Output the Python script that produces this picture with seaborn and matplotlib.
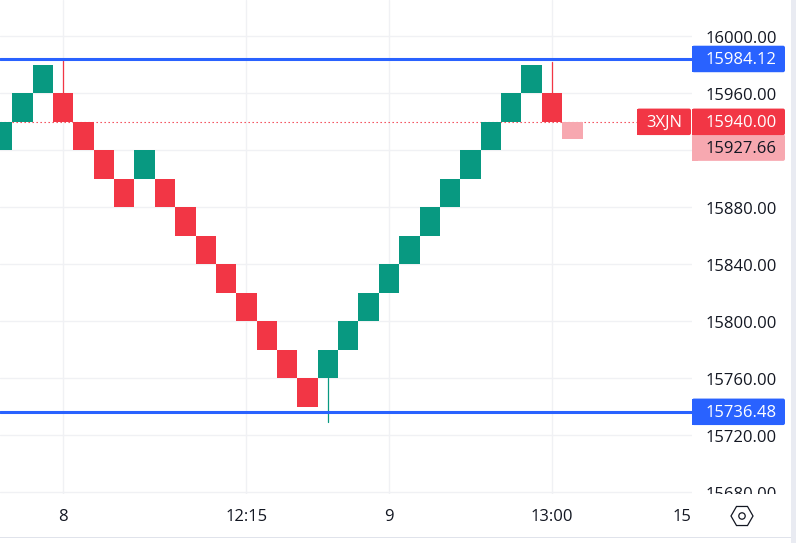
"""
plot.py
Renko chart with price axis badges, saved to out.png.
"""

import matplotlib
matplotlib.use("Agg")
import matplotlib.pyplot as plt
from matplotlib.patches import Circle, FancyBboxPatch, Rectangle, RegularPolygon
from matplotlib.transforms import Affine2D, Bbox, IdentityTransform
import numpy as np
import pandas as pd
import seaborn as sns

WIDTH, HEIGHT = 796, 543
AXIS_X, AXIS_Y = 692, 494

RED = "#f23645"
GREEN = "#089981"
BLUE = "#2962ff"
GHOST = "#f7a8b0"
GRID = "#f0f1f4"
TEXT = "#131722"
FONT = "Open Sans"
FONT_SIZE = 12

# bricks: position, open, close
brick_pos = list(range(28))
brick_open = [15920, 15940, 15960, 15960, 15940, 15920, 15900, 15900, 15900, 15880,
              15860, 15840, 15820, 15800, 15780, 15760, 15760, 15780, 15800, 15820,
              15840, 15860, 15880, 15900, 15920, 15940, 15960, 15960]
brick_close = [15940, 15960, 15980, 15940, 15920, 15900, 15880, 15920, 15880, 15860,
               15840, 15820, 15800, 15780, 15760, 15740, 15780, 15800, 15820, 15840,
               15860, 15880, 15900, 15920, 15940, 15960, 15980, 15940]

# wicks: position, from, to
wick_pos = [3, 16, 27]
wick_from = [15960, 15760, 15960]
wick_to = [15984, 15729, 15982]

ghost_pos = [28]
ghost_open = [15940]
ghost_close = [15927.66]

high_level = 15984.12
low_level = 15736.48
last_price = 15940.00

y_ticks = [16000, 15960, 15920, 15880, 15840, 15800, 15760, 15720, 15680]
x_ticks = [3, 12, 19, 27, 33.4]
x_labels = ["8", "12:15", "9", "13:00", "15"]
x_grid = [3, 12, 19, 27]

sns.set_theme(style="white")
plt.rcParams["font.family"] = [FONT, "DejaVu Sans"]

df = pd.DataFrame({"pos": brick_pos, "open": brick_open, "close": brick_close})
df["low"] = df[["open", "close"]].min(axis=1)
df["size"] = (df["close"] - df["open"]).abs()
df["up"] = df["close"] > df["open"]

fig = plt.figure(figsize=(WIDTH / 100, HEIGHT / 100), dpi=100)
ax = fig.add_axes([0, (HEIGHT - AXIS_Y) / HEIGHT, AXIS_X / WIDTH, AXIS_Y / HEIGHT])

# bricks
for up, color in [(True, GREEN), (False, RED)]:
    sub = df[df["up"] == up]
    sns.barplot(data=sub, x="pos", y="size", bottom=sub["low"].values, native_scale=True,
                color=color, saturation=1, width=1, linewidth=0, errorbar=None,
                zorder=3, ax=ax)
ax.bar(ghost_pos, np.abs(np.array(ghost_close) - ghost_open), bottom=ghost_close,
       width=1, color=GHOST, linewidth=0, zorder=3)

for x, y0, y1 in zip(wick_pos, wick_from, wick_to):
    ax.plot([x, x], [y0, y1], color=GREEN if y1 < y0 else RED, linewidth=0.9, zorder=2.5)

ax.axhline(high_level, color=BLUE, linewidth=2.2, zorder=2.8)
ax.axhline(low_level, color=BLUE, linewidth=2.2, zorder=2.8)
ax.axhline(last_price, color=RED, linewidth=0.8, linestyle=(0, (1.2, 2.4)), zorder=2)

ax.set_xlim(-2 / 20.37, (AXIS_X - 2) / 20.37)
ax.set_ylim(15678.8, 16025.5)
ax.set_xlabel("")
ax.set_ylabel("")

for s in ax.spines.values():
    s.set_visible(False)
ax.set_axisbelow(True)
for x in x_grid:
    ax.axvline(x, color=GRID, linewidth=1, zorder=1)
ax.yaxis.tick_right()
ax.set_yticks(y_ticks)
# 15920 sits behind the ghost price badge, so its label stays blank
ax.set_yticklabels(["" if v == 15920 else f"{v:.2f}" for v in y_ticks])
ax.grid(True, axis="y", color=GRID, linewidth=1)
ax.grid(False, axis="x")
ax.set_xticks(x_ticks)
ax.set_xticklabels(x_labels)
ax.tick_params(axis="y", length=0, pad=9.4, labelsize=FONT_SIZE, labelcolor=TEXT)
ax.tick_params(axis="x", length=0, pad=11, labelsize=FONT_SIZE, labelcolor=TEXT)
# last price label gets cut off by the time scale
for t in ax.get_yticklabels():
    t.set_transform(t.get_transform() + Affine2D().translate(0, -1))
    t.set_clip_on(True)
    t.set_clip_box(Bbox([[AXIS_X, HEIGHT - AXIS_Y], [WIDTH, HEIGHT]]))


def to_px(value):
    return ax.transData.transform((0, value))[1]


def badge(x0, x1, yc, color, label, text_color="white", text_x=None, h=26.5):
    fig.add_artist(FancyBboxPatch((x0 + 2, yc - h / 2 + 2), x1 - x0 - 4, h - 4,
                                  boxstyle="round,pad=2,rounding_size=2",
                                  facecolor=color, edgecolor="none",
                                  transform=IdentityTransform(), zorder=5))
    fig.add_artist(Rectangle((x0, yc - h / 2), 6, h, facecolor=color, edgecolor="none",
                             transform=IdentityTransform(), zorder=5))
    fig.text(text_x if text_x else (x0 + x1) / 2, yc - 1.5, label, color=text_color,
             fontsize=FONT_SIZE, ha="center", va="center", fontweight=500,
             transform=IdentityTransform(), zorder=6)


mid = 741
badge(AXIS_X, 785, to_px(high_level), BLUE, f"{high_level:.2f}", text_x=mid)
badge(AXIS_X, 785, to_px(low_level), BLUE, f"{low_level:.2f}", text_x=mid)
badge(AXIS_X, 785, to_px(ghost_close[0]) - 8.2, GHOST, f"{ghost_close[0]:.2f}",
      text_color=TEXT, text_x=mid)
badge(AXIS_X, 785, to_px(last_price), RED, f"{last_price:.2f}", text_x=mid)
badge(637, 691, to_px(last_price), RED, "3XJN", text_x=664)

# outer frame strips and settings icon
fig.add_artist(Rectangle((0, 5.5), WIDTH, 1, facecolor="#e0e3eb", edgecolor="none",
                         transform=IdentityTransform(), zorder=4))
fig.add_artist(Rectangle((791, 0), 5, HEIGHT, facecolor="#e9ebf2", edgecolor="none",
                         transform=IdentityTransform(), zorder=4))
fig.add_artist(RegularPolygon((742, 27), 6, radius=11, orientation=np.pi / 2,
                              facecolor="none", edgecolor=TEXT, linewidth=0.9,
                              transform=IdentityTransform(), zorder=6))
fig.add_artist(Circle((742, 27), 3.2, facecolor="none", edgecolor=TEXT, linewidth=0.9,
                      transform=IdentityTransform(), zorder=6))

fig.savefig("out.png", dpi=100)
plt.close(fig)
